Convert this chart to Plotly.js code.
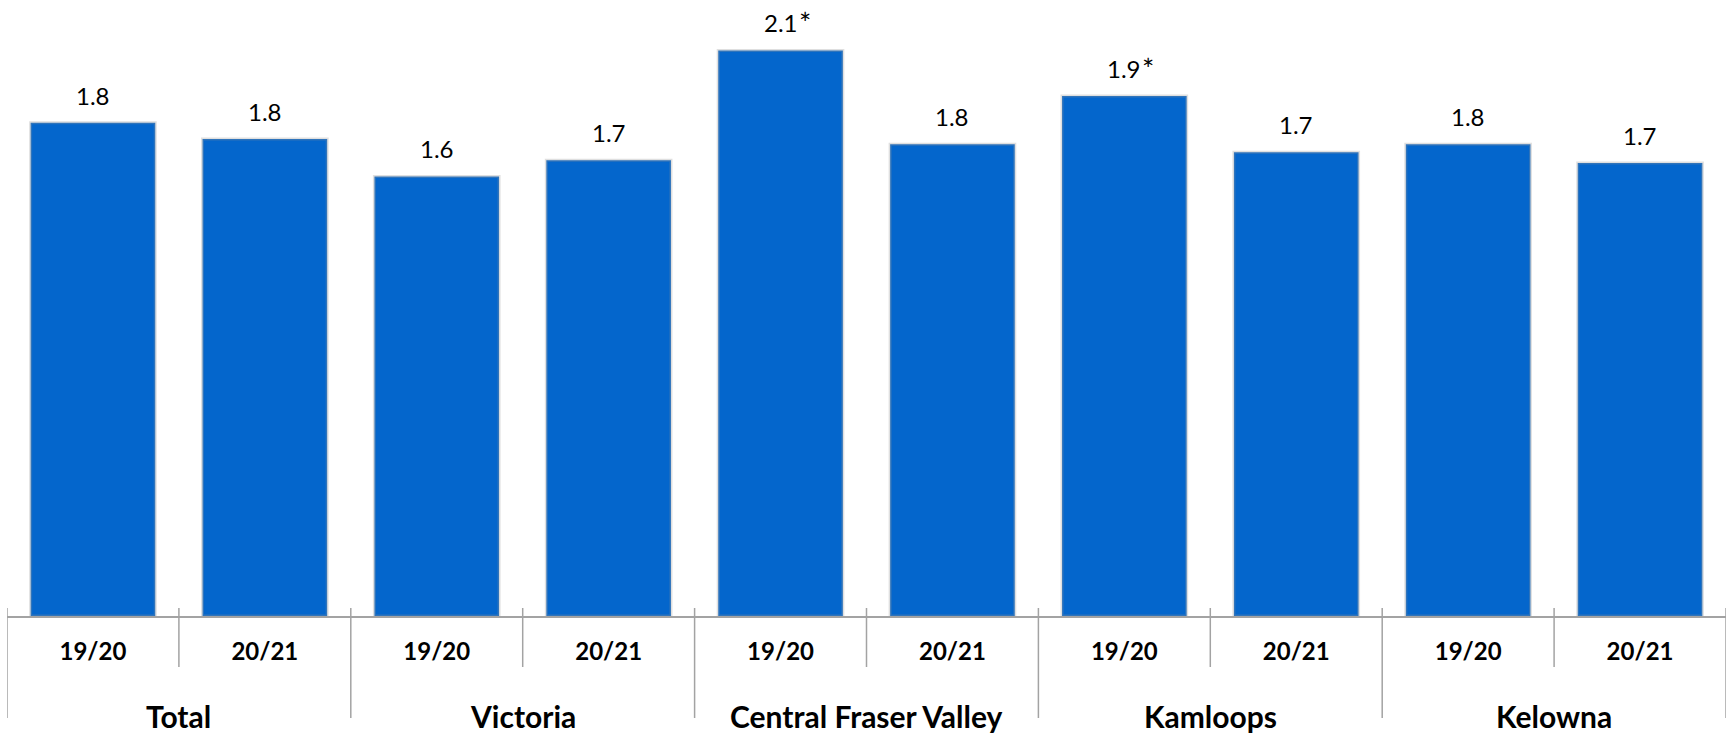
<!DOCTYPE html>
<html>
<head>
<meta charset="utf-8">
<script src="https://cdn.plot.ly/plotly-3.0.1.min.js"></script>
<style>
  html, body { margin: 0; padding: 0; background: #ffffff; }
  #chart { width: 1728px; height: 734px; }
</style>
</head>
<body>
<div id="chart"></div>
<script>
// ---- data ----
const groups  = ["Total", "Victoria", "Central Fraser Valley", "Kamloops", "Kelowna"];
const periods = ["19/20", "20/21", "19/20", "20/21", "19/20", "20/21", "19/20", "20/21", "19/20", "20/21"];
const values  = [1.84, 1.78, 1.64, 1.70, 2.11, 1.76, 1.94, 1.73, 1.76, 1.69];
const notes   = ["", "", "", "", "*", "", "*", "", "", ""];

// ---- build ----
const idx = periods.map((_, i) => i);
const barColor = "#0466CC";
const axisGray = "#a3a3a3";
const fam = "Lato, 'Open Sans', sans-serif";
const valueFont = { family: fam, size: 24, color: "#000000" };

const trace = {
  type: "bar",
  x: idx,
  y: values,
  width: 0.725,
  marker: { color: barColor, line: { color: "rgba(150,150,150,0.3)", width: 3 } },
  hoverinfo: "x+y"
};

const annotations = [];
values.forEach((v, i) => {
  annotations.push({
    x: i, y: v, xref: "x", yref: "y",
    text: v.toFixed(1), showarrow: false,
    xanchor: "center", yanchor: "bottom", yshift: 11,
    font: valueFont
  });
  if (notes[i]) {
    annotations.push({
      x: i, y: v, xref: "x", yref: "y",
      text: notes[i], showarrow: false,
      xanchor: "left", yanchor: "bottom", yshift: 9, xshift: 17,
      borderpad: 0,
      font: { family: fam, size: 29, color: "#000000" }
    });
  }
});
groups.forEach((g, gi) => {
  annotations.push({
    x: gi * 2 + 0.5, y: -0.165, xref: "x", yref: "paper",
    text: "<b>" + g + "</b>", showarrow: false,
    xanchor: "center", yanchor: "middle",
    font: { family: fam, size: 30, color: "#000000" }
  });
});

const shapes = [];
for (let b = 0; b <= periods.length; b++) {
  const isGroupEdge = b % 2 === 0;
  shapes.push({
    type: "line", xref: "x", yref: "paper",
    x0: b - 0.5, x1: b - 0.5,
    y0: 0.0132, y1: isGroupEdge ? -0.1683 : -0.0842,
    line: { color: axisGray, width: 1.5 }
  });
}

const layout = {
  width: 1728, height: 734,
  margin: { l: 7, r: 2, t: 10, b: 118 },
  paper_bgcolor: "#ffffff", plot_bgcolor: "#ffffff",
  showlegend: false,
  xaxis: {
    range: [-0.5, 9.5],
    tickmode: "array", tickvals: idx, ticktext: periods.map(p => "<b>" + p + "</b>"),
    tickfont: { family: fam, size: 24, color: "#000000" },
    showline: true, linecolor: axisGray, linewidth: 2,
    ticks: "outside", ticklen: 13, tickcolor: "rgba(0,0,0,0)",
    showgrid: false, zeroline: false, fixedrange: true
  },
  yaxis: {
    range: [0, 2.261],
    visible: false, showgrid: false, zeroline: false, fixedrange: true
  },
  annotations: annotations,
  shapes: shapes
};

Plotly.newPlot("chart", [trace], layout, { displayModeBar: false, staticPlot: true });
</script>
</body>
</html>
